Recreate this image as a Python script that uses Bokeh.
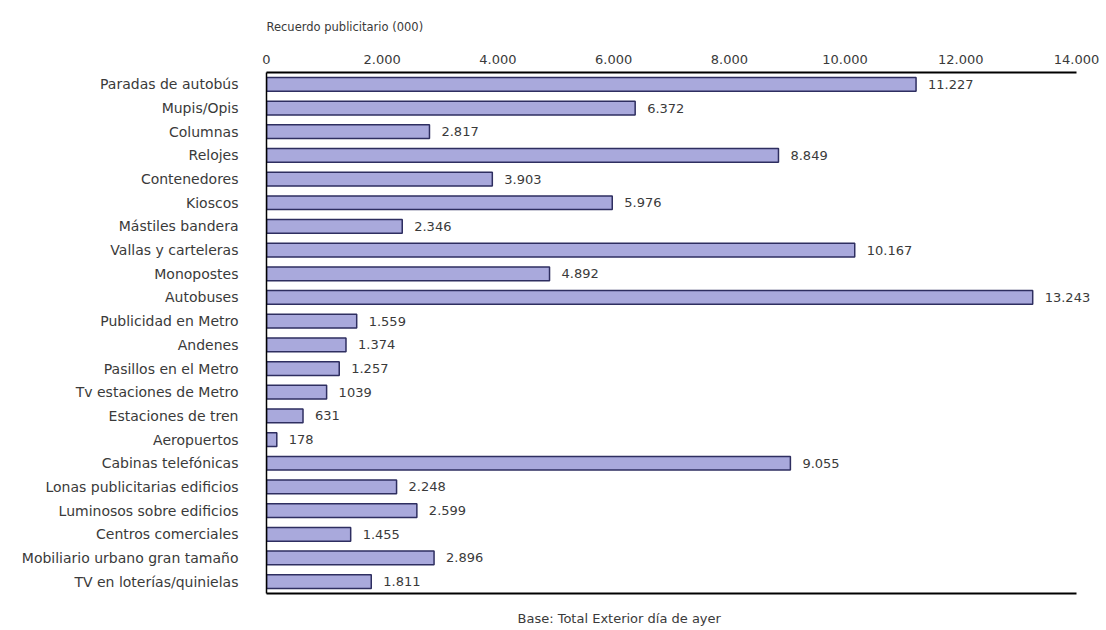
from bokeh.plotting import figure
from bokeh.models import (ColumnDataSource, FactorRange, Range1d, LinearAxis,
                          FixedTicker, LabelSet, Title)
from bokeh.core.properties import value
from bokeh.embed import file_html
from bokeh.resources import INLINE

# Advertising recall by outdoor medium (thousands)
categories = [
    "Paradas de autobús", "Mupis/Opis", "Columnas", "Relojes", "Contenedores",
    "Kioscos", "Mástiles bandera", "Vallas y carteleras", "Monopostes",
    "Autobuses", "Publicidad en Metro", "Andenes", "Pasillos en el Metro",
    "Tv estaciones de Metro", "Estaciones de tren", "Aeropuertos",
    "Cabinas telefónicas", "Lonas publicitarias edificios",
    "Luminosos sobre edificios", "Centros comerciales",
    "Mobiliario urbano gran tamaño", "TV en loterías/quinielas",
]
recall = [11227, 6372, 2817, 8849, 3903, 5976, 2346, 10167, 4892, 13243,
          1559, 1374, 1257, 1039, 631, 178, 9055, 2248, 2599, 1455, 2896, 1811]
recall_labels = ["11.227", "6.372", "2.817", "8.849", "3.903", "5.976", "2.346",
                 "10.167", "4.892", "13.243", "1.559", "1.374", "1.257", "1039",
                 "631", "178", "9.055", "2.248", "2.599", "1.455", "2.896", "1.811"]
x_ticks = [0, 2000, 4000, 6000, 8000, 10000, 12000, 14000]
x_tick_labels = ["0", "2.000", "4.000", "6.000", "8.000", "10.000", "12.000", "14.000"]

axis_title = "Recuerdo publicitario (000)"
base_note = "Base: Total Exterior día de ayer"

FONT = "DejaVu Sans"
TEXT = "#3a3a3a"
X_MAX = 14000

source = ColumnDataSource(dict(cat=categories, val=recall, lab=recall_labels))

# the frame runs a little past 14.000 so the longest value label is not cut;
# the axis rules themselves stop at 14.000
px_per_unit = (1076 - 266) / X_MAX
x_end = X_MAX + 26 / px_per_unit

p = figure(width=1106, height=630, output_backend="svg", toolbar_location=None,
           y_range=FactorRange(*reversed(categories), range_padding=0),
           x_range=Range1d(0, x_end), x_axis_location="above",
           min_border_left=266, min_border_right=4, min_border_top=72,
           min_border_bottom=36)
p.background_fill_color = "white"
p.border_fill_color = "white"
p.outline_line_color = None
p.grid.visible = False

p.hbar(y="cat", right="val", left=0, height=0.58, source=source,
       fill_color="#a9a9dc", line_color="#2e2e60", line_width=1.5)

# value labels
labels = LabelSet(x="val", y="cat", text="lab", source=source, x_offset=12,
                  text_baseline="middle", text_align="left",
                  text_font=value(FONT), text_font_size="13px", text_color=TEXT,
                  level="overlay")
p.add_layout(labels)

# top axis
xa = p.xaxis[0]
xa.bounds = (0, X_MAX)
xa.ticker = FixedTicker(ticks=x_ticks)
xa.major_label_overrides = {t: l for t, l in zip(x_ticks, x_tick_labels)}
xa.major_tick_line_color = None
xa.minor_tick_line_color = None
xa.axis_line_color = "black"
xa.axis_line_width = 2
xa.major_label_text_font = FONT
xa.major_label_text_font_size = "13px"
xa.major_label_text_color = TEXT
xa.major_label_standoff = 3

# bottom rule (a blank tick label keeps a little room under it)
xb = LinearAxis(ticker=FixedTicker(ticks=[0]), major_tick_line_color=None,
                minor_tick_line_color=None, axis_line_color="black",
                axis_line_width=2, major_label_text_font_size="1px",
                major_label_overrides={0: " "}, major_label_standoff=0,
                bounds=(0, X_MAX))
p.add_layout(xb, "below")

# category axis
ya = p.yaxis[0]
ya.major_tick_line_color = None
ya.minor_tick_line_color = None
ya.axis_line_color = "black"
ya.axis_line_width = 1.5
ya.major_label_text_font = FONT
ya.major_label_text_font_size = "14px"
ya.major_label_text_color = TEXT
ya.major_label_standoff = 22

p.add_layout(Title(text=axis_title, align="left", text_font=FONT,
                   text_font_size="11.5px", text_font_style="normal",
                   text_color=TEXT, standoff=35), "above")
p.add_layout(Title(text=base_note, align="left", offset=251, text_font=FONT,
                   text_font_size="13px", text_font_style="normal",
                   text_color=TEXT), "below")

open("out.html", "w").write(file_html(p, INLINE))
